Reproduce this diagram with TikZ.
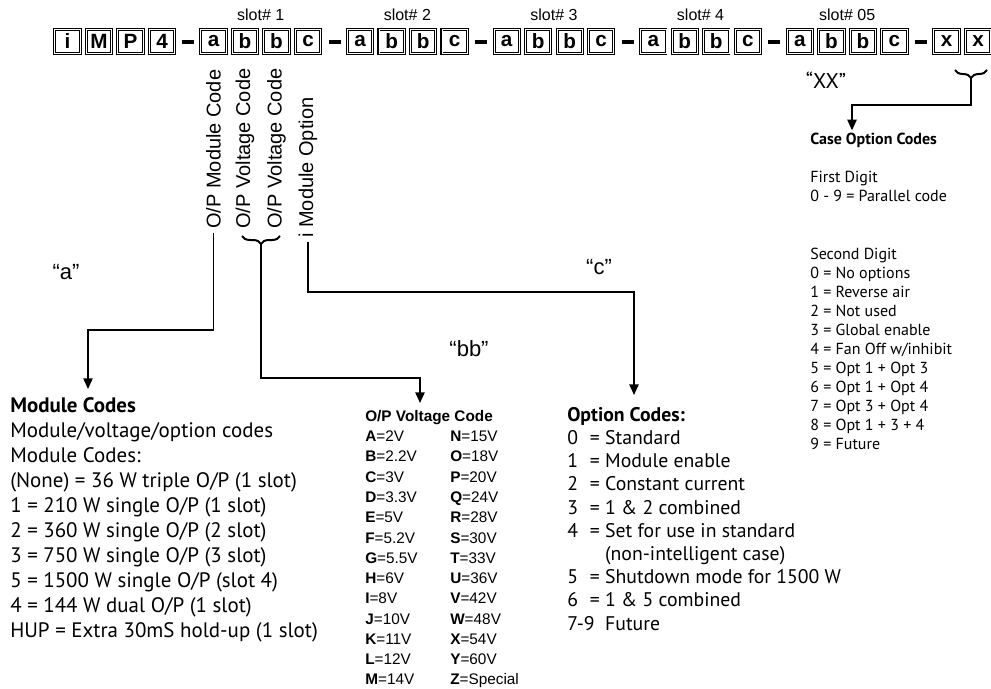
\documentclass[tikz,border=0pt]{standalone}
\usepackage{fontspec}
\setmainfont{PT Sans}
\newfontfamily\helv{Liberation Sans}
\usetikzlibrary{calc, arrows.meta, positioning, decorations.pathreplacing}

\begin{document}
\begin{tikzpicture}[x=0.75pt, y=-0.75pt,
    chr/.style={draw, double, double distance=0.6pt, line width=0.8pt, minimum width=19pt, minimum height=17.5pt,
                inner sep=0pt, font=\helv\bfseries\fontsize{15.5}{16}\selectfont},
    dashbar/.style={fill=black, minimum width=9pt, minimum height=3.5pt, inner sep=0pt},
    slotlbl/.style={font=\helv\fontsize{12}{12}\selectfont},
    vlbl/.style={rotate=90, anchor=west, inner sep=0pt, font=\helv\fontsize{15}{15}\selectfont},
    qlbl/.style={font=\helv\fontsize{16.5}{17}\selectfont},
    lst/.style={anchor=north west, align=left, inner sep=0pt},
    arr/.style={-{Triangle[length=8pt, width=7pt]}, line width=1.1pt},
    brc/.style={decorate, decoration={brace, amplitude=6pt}, line width=1.5pt}]
    \useasboundingbox (0,0) rectangle (991,688);

    % code boxes
    \foreach \ch [count=\i from 0] in {i,M,P,4}
        \node[chr] (pre\i) at ({67.5+31.5*\i},41.5) {\ch};
    \node[dashbar] (d0) at (188,42) {};
    \foreach \k/\t in {1/1,2/2,3/3,4/4,5/05}{
        \foreach \ch [count=\m from 0] in {a,b,b,c}
            \node[chr] (s\k\m) at ({213.5+146.6*(\k-1)+31.5*\m},41.5) {\ch};
        \node[dashbar] (d\k) at ({334.5+146.6*(\k-1)},42) {};
        \node[slotlbl] (slot\k) at ($(s\k1)!0.5!(s\k2)+(0,-26.5)$) {slot\# \t};
    }
    \node[chr] (x0) at (946.5,41.5) {x};
    \node[chr] (x1) at (978,41.5) {x};

    % field names under slot 1
    \node[vlbl] (vmod)  at (s10 |- 0,229) {O/P Module Code};
    \node[vlbl] (vvol1) at (s11 |- 0,229) {O/P Voltage Code};
    \node[vlbl] (vvol2) at (s12 |- 0,229) {O/P Voltage Code};
    \node[vlbl] (vopt)  at (s13 |- 0,238) {i Module Option};

    % lists
    \node[lst, font=\fontsize{15.7}{18.75}\selectfont] (modlist) at (10,397)
        {\textbf{Module Codes}\\
         Module/voltage/option codes\\
         Module Codes:\\
         (None) = 36 W triple O/P (1 slot)\\
         1 = 210 W single O/P (1 slot)\\
         2 = 360 W single O/P (2 slot)\\
         3 = 750 W single O/P (3 slot)\\
         5 = 1500 W single O/P (slot 4)\\
         4 = 144 W dual O/P (1 slot)\\
         HUP = Extra 30mS hold-up (1 slot)};

    \node[lst, font=\helv\fontsize{11.5}{15.2}\selectfont] (vtab) at (365,407)
        {\begin{tabular}{@{}p{63.75pt}@{}l@{}}
         \multicolumn{2}{@{}l@{}}{\textbf{O/P Voltage Code}}\\
         \textbf{A}=2V   & \textbf{N}=15V\\
         \textbf{B}=2.2V & \textbf{O}=18V\\
         \textbf{C}=3V   & \textbf{P}=20V\\
         \textbf{D}=3.3V & \textbf{Q}=24V\\
         \textbf{E}=5V   & \textbf{R}=28V\\
         \textbf{F}=5.2V & \textbf{S}=30V\\
         \textbf{G}=5.5V & \textbf{T}=33V\\
         \textbf{H}=6V   & \textbf{U}=36V\\
         \textbf{I}=8V   & \textbf{V}=42V\\
         \textbf{J}=10V  & \textbf{W}=48V\\
         \textbf{K}=11V  & \textbf{X}=54V\\
         \textbf{L}=12V  & \textbf{Y}=60V\\
         \textbf{M}=14V  & \textbf{Z}=Special
         \end{tabular}};

    \node[lst, font=\fontsize{14.8}{17.4}\selectfont] (optlist) at (567,407)
        {\textbf{Option Codes:}\\
         \makebox[17pt][l]{0}= Standard\\
         \makebox[17pt][l]{1}= Module enable\\
         \makebox[17pt][l]{2}= Constant current\\
         \makebox[17pt][l]{3}= 1 \& 2 combined\\
         \makebox[17pt][l]{4}= Set for use in standard\\
         \makebox[17pt][l]{}\phantom{= }(non-intelligent case)\\
         \makebox[17pt][l]{5}= Shutdown mode for 1500 W\\
         \makebox[17pt][l]{6}= 1 \& 5 combined\\
         7-9\ \ Future};

    \node[lst, font=\fontsize{12}{14.3}\selectfont] (caselist) at (810,133)
        {\textbf{Case Option Codes}\\[\baselineskip]
         First Digit\\
         0 - 9 = Parallel code\\[2\baselineskip]
         Second Digit\\
         0 = No options\\
         1 = Reverse air\\
         2 = Not used\\
         3 = Global enable\\
         4 = Fan Off w/inhibit\\
         5 = Opt 1 + Opt 3\\
         6 = Opt 1 + Opt 4\\
         7 = Opt 3 + Opt 4\\
         8 = Opt 1 + 3 + 4\\
         9 = Future};

    % braces
    \draw[brc] (280,236) -- (242,236) coordinate[midway, yshift=-6pt] (bbtip);
    \draw[brc] (987,70) -- (955,70) coordinate[midway, yshift=-6pt] (xxtip);

    % connectors
    \coordinate (abend)  at (88,330);
    \coordinate (bbbend) at (420,378);
    \coordinate (cbend)  at (634,292);
    \coordinate (xxbend) at (852,105);
    \draw[arr, shorten <=3pt] (vmod.west) |- (abend) -- (abend |- modlist.north) [shorten >=6pt];
    \draw[arr] (bbtip) |- (bbbend) -- (bbbend |- vtab.north) [shorten >=3pt];
    \draw[arr, shorten <=3pt] (vopt.west) |- (cbend) -- (cbend |- optlist.north) [shorten >=9pt];
    \draw[arr] (xxtip) |- (xxbend) -- (xxbend |- caselist.north) [shorten >=2pt];

    % field letters
    \node[qlbl] (qa)  at (66,272)  {“a”};
    \node[qlbl] (qbb) at (469,349) {“bb”};
    \node[qlbl] (qc)  at (599,267) {“c”};
    \node[font=\fontsize{16}{17}\selectfont] (qxx) at (826,80) {“XX”};
\end{tikzpicture}
\end{document}
